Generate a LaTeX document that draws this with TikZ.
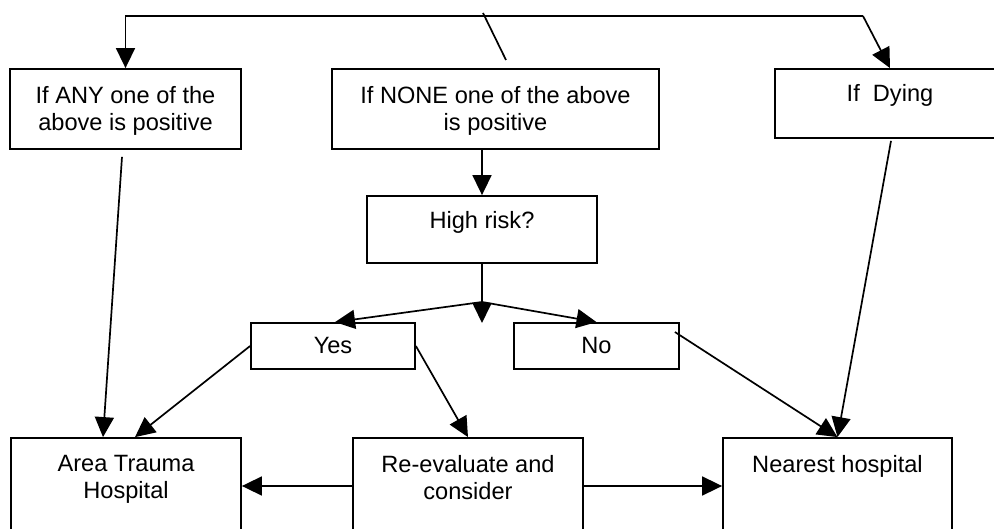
\documentclass[tikz,border=0pt]{standalone}
\usepackage{fontspec}
\setmainfont{Liberation Sans}
\usetikzlibrary{arrows.meta,positioning}
\tikzset{box/.style={draw, line width=1.8pt, inner sep=0pt},
  txt/.style={align=center, inner sep=0pt, font=\fontsize{23.6}{26.7}\selectfont},
  line/.style={line width=1.7pt},
  arr/.style={line, -{Triangle[length=20pt,width=19pt]}}}

\begin{document}
\begin{tikzpicture}[x=1pt, y=-1pt]
    \useasboundingbox (0,0) rectangle (994,529);

    % top row of boxes
    \node[box, minimum width=231pt, minimum height=80pt] (any) at (125.5,109) {};
    \node[box, minimum width=327pt, minimum height=80pt] (none) at (495.5,109) {};
    \node[box, minimum width=230pt, minimum height=69pt] (dying) at (890,103.5) {};
    \node[txt, below=18pt of any.north] (anytxt) {If ANY one of the\\above is positive};
    \node[txt, below=18pt of none.north] (nonetxt) {If NONE one of the above\\is positive};
    \node[txt, below=16pt of dying.north] (dyingtxt) {If\ \ Dying};

    % middle boxes
    \node[box, minimum width=230pt, minimum height=67pt] (hrisk) at (482,229.5) {};
    \node[txt, below=16pt of hrisk.north] (hrisktxt) {High risk?};
    \node[box, minimum width=164pt, minimum height=46pt] (yes) at (333,346) {};
    \node[box, minimum width=165pt, minimum height=46pt] (no) at (596.5,346) {};
    \node[txt, below=15pt of yes.north] (yestxt) {Yes};
    \node[txt, below=15pt of no.north] (notxt) {No};

    % bottom row, cut off by the page
    \foreach \name/\x/\w in {area/126/230, re/468/230, near/837.5/229}
      \node[box, minimum width=\w pt, minimum height=96pt] (\name) at (\x,486) {};
    \node[txt, below=18pt of area.north] (areatxt) {Area Trauma\\Hospital};
    \node[txt, below=18pt of re.north] (retxt) {Re-evaluate and\\consider};
    \node[txt, below=18pt of near.north] (neartxt) {Nearest hospital};

    % bracket along the top
    \coordinate (tl) at (125.5,16);
    \coordinate (tr) at (863,16);
    \draw[arr] (tr) -- (tl) -- (any.north);
    \draw[arr] (tr) -- (dying.north);
    \coordinate (slashtop) at (483,13);
    \coordinate (slashend) at (506,60);
    \draw[line] (slashtop) -- (slashend);

    % high risk split
    \draw[arr] (hrisk.north |- none.south) -- (hrisk.north);
    \coordinate (split) at (482,302);
    \coordinate (splitdown) at (482,323);
    \draw[line] (hrisk.south) -- (split);
    \draw[arr] (split) -- ([xshift=2pt]yes.north);
    \draw[arr] (split) -- (no.north);
    \draw[arr] (split) -- (splitdown);

    % into the hospitals
    \draw[arr] ([xshift=-3.5pt, yshift=-7pt]any.south) -- ([xshift=-23pt]area.north);
    \draw[arr] (yes.west) -- ([xshift=9pt]area.north);
    \draw[arr] (yes.east) -- (re.north);
    \draw[arr] ([xshift=-5pt, yshift=14pt]no.east) -- (near.north);
    \draw[arr] ([xshift=1pt, yshift=-2pt]dying.south) -- (near.north);
    \draw[arr] (re.west) -- (area.east);
    \draw[arr] (re.east) -- (near.west);
\end{tikzpicture}
\end{document}
